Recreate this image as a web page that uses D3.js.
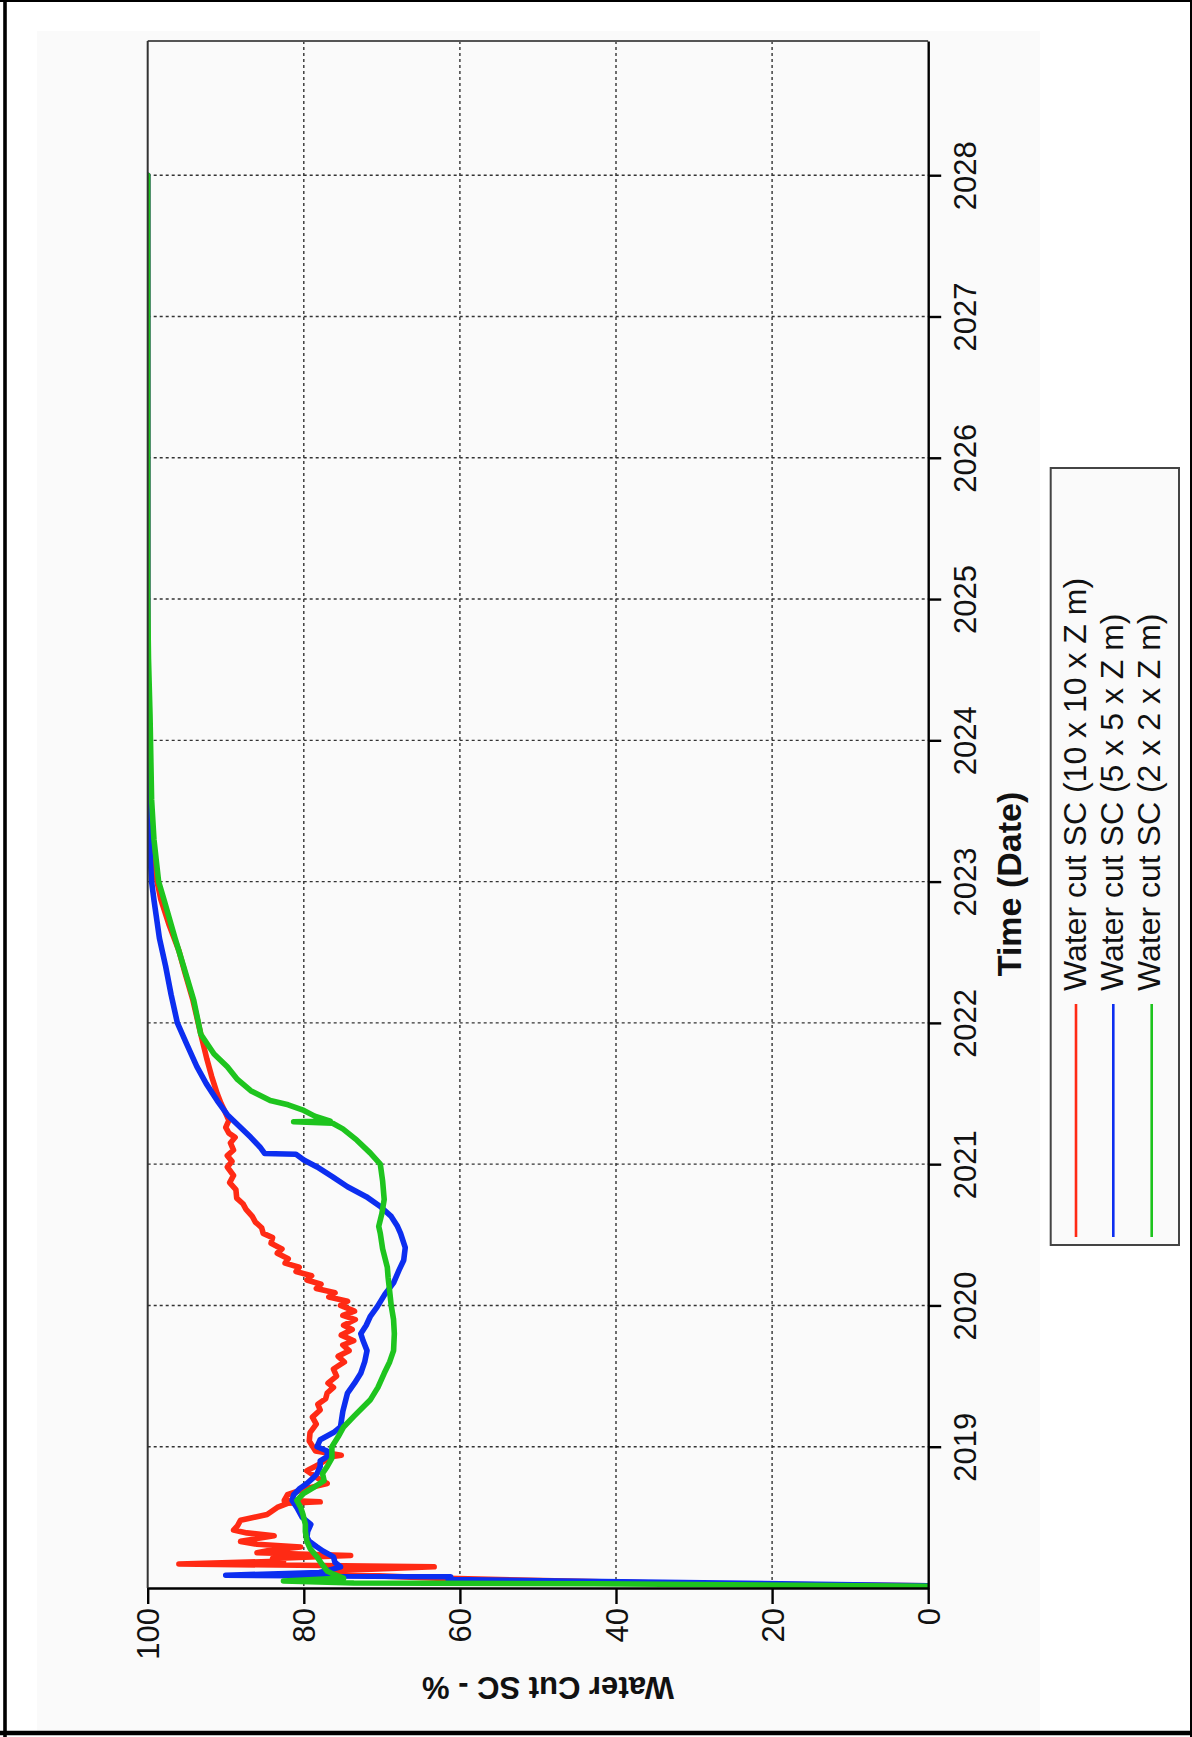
<!DOCTYPE html>
<html><head><meta charset="utf-8">
<script src="https://cdn.jsdelivr.net/npm/d3@7"></script>
<style>
html,body{margin:0;padding:0;background:#fff;}
svg{display:block;font-family:"Liberation Sans",Arial,Helvetica,sans-serif;}
</style>
</head><body>
<svg id="chart" width="1192" height="1737"></svg>
<script>
// ---- data ----
const yearTicks = [2019, 2020, 2021, 2022, 2023, 2024, 2025, 2026, 2027, 2028];
const valueTicks = [0, 20, 40, 60, 80, 100];
const timeDomain = [2018, 2028.95];
const valueDomain = [0, 100];
const seriesNames = ["Water cut SC (10 x 10 x Z m)", "Water cut SC (5 x 5 x Z m)", "Water cut SC (2 x 2 x Z m)"];
const seriesColors = ["#ff2a14", "#0c2ef0", "#1ec41e"];
const axisTitleX = "Time (Date)";
const axisTitleY = "Water Cut SC - %";

// [decimal year, water cut %]
const wc10 = [
 [2018.015,0],[2018.03,30],[2018.07,63],[2018.10,77],[2018.12,77],[2018.15,63.3],[2018.17,96],
 [2018.19,82.6],[2018.21,84],[2018.23,74],[2018.25,86],[2018.27,84],[2018.29,80.4],[2018.31,86],
 [2018.33,88.1],[2018.35,86],[2018.37,83.8],[2018.39,87.3],[2018.41,89],[2018.44,88.5],[2018.48,88.1],
 [2018.52,84.7],[2018.57,83.4],[2018.60,82],[2018.61,77.9],[2018.62,82.5],[2018.66,82.1],[2018.70,80],
 [2018.74,77],[2018.78,78.3],[2018.83,79.6],[2018.88,77.9],[2018.93,76.5],[2018.94,75.2],[2018.97,78.5],
 [2019.04,79.3],[2019.10,79.2],[2019.16,78.4],[2019.21,78.9],[2019.26,77.9],[2019.30,78.2],[2019.34,77.2],
 [2019.38,77.0],[2019.42,76.2],[2019.45,76.9],[2019.50,75.8],[2019.55,76.2],[2019.60,74.8],[2019.64,75.6],
 [2019.68,74.2],[2019.72,75.0],[2019.75,73.6],[2019.79,75.2],[2019.83,73.8],[2019.86,74.9],[2019.90,73.4],
 [2019.93,75.0],[2019.96,73.5],[2020.00,75.3],[2020.03,74.4],[2020.06,76.8],[2020.09,76.0],[2020.12,78.4],
 [2020.15,77.8],[2020.18,79.6],[2020.21,79.0],[2020.24,81.0],[2020.27,80.6],[2020.30,82.4],[2020.33,82.0],
 [2020.37,83.4],[2020.40,82.8],[2020.44,84.2],[2020.48,84.0],[2020.51,85.2],[2020.55,85.4],[2020.59,86.2],
 [2020.63,86.6],[2020.68,87.4],[2020.72,87.8],[2020.76,88.6],[2020.82,88.7],[2020.87,89.5],[2020.92,89.0],
 [2020.98,89.8],[2021.02,89.2],[2021.06,89.8],[2021.10,89.0],[2021.15,89.4],[2021.19,88.8],[2021.22,89.6],
 [2021.26,90.0],[2021.31,89.6],[2021.36,90.0],[2021.43,90.6],[2021.50,91.1],[2021.62,91.8],[2021.74,92.4],
 [2021.92,93.2],[2022.16,94.2],[2022.35,95.2],[2022.51,96.0],[2022.70,97.3],[2022.87,98.3],[2023.00,98.8],
 [2023.30,99.4],[2023.60,99.7],[2024.00,99.9],[2024.50,100],[2028.00,100]
];
const wc5 = [
 [2018.015,0],[2018.05,47],[2018.06,61.5],[2018.08,61.2],[2018.09,90],[2018.11,78],[2018.13,76.5],
 [2018.15,75.3],[2018.18,76],[2018.22,76.2],[2018.26,77.5],[2018.29,78.3],[2018.33,79.3],[2018.36,79.6],
 [2018.40,79.5],[2018.45,79.1],[2018.50,80.2],[2018.57,80.9],[2018.62,81.5],[2018.66,81.3],[2018.70,80.6],
 [2018.74,79.6],[2018.78,78.8],[2018.81,78.3],[2018.86,77.9],[2018.90,77.9],[2018.93,77.0],[2018.97,77.0],
 [2019.00,78.3],[2019.05,77.9],[2019.10,76.2],[2019.14,75.3],[2019.25,75.0],[2019.38,74.4],[2019.45,73.5],
 [2019.52,72.7],[2019.60,72.2],[2019.68,71.9],[2019.75,72.4],[2019.80,72.7],[2019.86,72.0],[2019.92,71.5],
 [2019.99,70.6],[2020.08,69.6],[2020.16,68.5],[2020.25,67.8],[2020.32,67.2],[2020.41,67.0],[2020.51,67.6],
 [2020.56,68.0],[2020.63,68.8],[2020.70,70.2],[2020.77,72.0],[2020.84,74.4],[2020.91,76.3],[2020.98,78.3],
 [2021.03,80.0],[2021.07,81.0],[2021.075,85.0],[2021.12,85.6],[2021.19,86.8],[2021.26,88.1],[2021.35,89.8],
 [2021.45,91.1],[2021.57,92.5],[2021.69,93.7],[2021.85,95.0],[2022.00,96.2],[2022.20,97.0],[2022.40,97.7],
 [2022.60,98.5],[2022.87,99.2],[2023.00,99.5],[2023.30,99.8],[2023.60,99.9],[2024.00,100],[2028.00,100]
];
const wc2 = [
 [2018.012,0],[2018.03,42.8],[2018.035,73.6],[2018.05,82.6],[2018.07,74.9],[2018.10,76.3],[2018.12,77.0],
 [2018.17,77.7],[2018.22,78.3],[2018.28,79.2],[2018.33,79.6],[2018.40,79.8],[2018.45,79.8],[2018.52,80.1],
 [2018.57,80.4],[2018.62,80.9],[2018.67,80.0],[2018.72,78.5],[2018.76,77.4],[2018.81,77.6],[2018.86,77.0],
 [2018.92,76.4],[2019.00,76.4],[2019.07,75.6],[2019.14,74.9],[2019.22,73.5],[2019.33,71.5],[2019.42,70.5],
 [2019.52,69.7],[2019.60,69.0],[2019.68,68.5],[2019.80,68.4],[2019.90,68.5],[2020.00,68.8],[2020.10,69.0],
 [2020.20,69.2],[2020.27,69.3],[2020.40,69.9],[2020.51,70.2],[2020.56,70.4],[2020.65,70.0],[2020.75,69.7],
 [2020.88,69.9],[2021.00,70.2],[2021.08,71.5],[2021.17,73.2],[2021.25,75.0],[2021.29,76.3],[2021.30,81.3],
 [2021.305,76.6],[2021.34,78.6],[2021.38,80.0],[2021.42,82.0],[2021.45,84.3],[2021.52,86.8],[2021.60,88.5],
 [2021.69,89.8],[2021.78,91.5],[2021.92,93.2],[2022.16,94.1],[2022.40,95.4],[2022.60,96.5],[2022.87,97.9],
 [2023.00,98.6],[2023.30,99.2],[2023.58,99.5],[2024.17,99.7],[2024.58,99.9],[2025.00,100],[2028.00,100]
];
const seriesData = [wc10, wc5, wc2];

// ---- layout ----
const plot = {left: 147.7, right: 928.2, top: 41, bottom: 1588};
const svg = d3.select("#chart");

const tScale = d3.scaleLinear().domain(timeDomain).range([plot.bottom, plot.top]);
const vScale = d3.scaleLinear().domain(valueDomain).range([plot.right, plot.left]);

// page background / panel
svg.append("rect").attr("x",0).attr("y",0).attr("width",1192).attr("height",1737).attr("fill","#fff");
svg.append("rect").attr("x",37).attr("y",31).attr("width",1003).attr("height",1700).attr("fill","#fafafa");

// gridlines
const grid = svg.append("g");
grid.selectAll("line.gy").data(yearTicks).join("line")
  .attr("x1", plot.left).attr("x2", plot.right)
  .attr("y1", d=>tScale(d)).attr("y2", d=>tScale(d))
  .attr("stroke","#333").attr("stroke-width",1.4).attr("stroke-dasharray","3,3");
grid.selectAll("line.gv").data(valueTicks.filter(v=>v>0 && v<100)).join("line")
  .attr("y1", plot.top).attr("y2", plot.bottom)
  .attr("x1", d=>vScale(d)).attr("x2", d=>vScale(d))
  .attr("stroke","#333").attr("stroke-width",1.4).attr("stroke-dasharray","3,3");

// clip
svg.append("clipPath").attr("id","clip").append("rect")
  .attr("x",plot.left).attr("y",plot.top).attr("width",plot.right-plot.left).attr("height",plot.bottom-plot.top);

const line = d3.line().x(d=>vScale(d[1])).y(d=>tScale(d[0]));
const lines = svg.append("g").attr("clip-path","url(#clip)");
seriesData.forEach((s,i)=>{
  lines.append("path").datum(s).attr("d", line)
    .attr("fill","none").attr("stroke", seriesColors[i])
    .attr("stroke-width", 5.6).attr("stroke-linejoin","round").attr("stroke-linecap","round");
});

// frame top/left
svg.append("line").attr("x1",plot.left).attr("x2",plot.right).attr("y1",plot.top).attr("y2",plot.top)
  .attr("stroke","#555").attr("stroke-width",2);
svg.append("line").attr("x1",plot.left).attr("x2",plot.left).attr("y1",plot.top).attr("y2",plot.bottom)
  .attr("stroke","#333").attr("stroke-width",2);

// right (time) axis
const tAxis = d3.axisRight(tScale).tickValues(yearTicks).tickSize(13).tickSizeOuter(0).tickFormat(d3.format("d"));
const gT = svg.append("g").attr("transform",`translate(${plot.right},0)`).call(tAxis);
gT.select(".domain").attr("stroke","#000").attr("stroke-width",2.4);
gT.selectAll(".tick line").attr("stroke","#000").attr("stroke-width",2.4);
gT.selectAll(".tick text").attr("x",null).attr("dy",null)
  .attr("transform","translate(48,0) rotate(-90)")
  .attr("text-anchor","middle").attr("font-size",31).attr("fill","#111")
  .attr("font-family",'"Liberation Sans",Arial,sans-serif');

// bottom (value) axis
const vAxis = d3.axisBottom(vScale).tickValues(valueTicks).tickSize(16).tickSizeOuter(0).tickFormat(d3.format("d"));
const gV = svg.append("g").attr("transform",`translate(0,${plot.bottom})`).call(vAxis);
gV.select(".domain").attr("stroke","#000").attr("stroke-width",2.4);
gV.selectAll(".tick line").attr("stroke","#000").attr("stroke-width",2.4);
gV.selectAll(".tick text").attr("y",null).attr("dy",null)
  .attr("transform","translate(11,20) rotate(-90)")
  .attr("text-anchor","end").attr("font-size",31).attr("fill","#111")
  .attr("font-family",'"Liberation Sans",Arial,sans-serif');

// axis titles
svg.append("text").text(axisTitleY)
  .attr("transform","translate(548,1677) rotate(180)")
  .attr("text-anchor","middle").attr("font-size",31).attr("font-weight","bold").attr("fill","#111");
svg.append("text").text(axisTitleX)
  .attr("transform","translate(1021,884) rotate(-90)")
  .attr("text-anchor","middle").attr("font-size",34).attr("font-weight","bold").attr("fill","#111");

// legend
const leg = svg.append("g");
leg.append("rect").attr("x",1050.7).attr("y",468).attr("width",128.3).attr("height",777)
  .attr("fill","#fafafa").attr("stroke","#444").attr("stroke-width",2);
const legLineX = [1076, 1113.3, 1151.7];
const legTextX = [1086, 1123, 1160];
seriesNames.forEach((n,i)=>{
  leg.append("line").attr("x1",legLineX[i]).attr("x2",legLineX[i]).attr("y1",1004).attr("y2",1237)
    .attr("stroke",seriesColors[i]).attr("stroke-width",2.6);
  leg.append("text").text(n).attr("transform",`translate(${legTextX[i]},991) rotate(-90)`)
    .attr("text-anchor","start").attr("font-size",32).attr("fill","#111");
});

// outer border
svg.append("line").attr("x1",5).attr("x2",5).attr("y1",0).attr("y2",1737).attr("stroke","#000").attr("stroke-width",3.6);
svg.append("line").attr("x1",0).attr("x2",1192).attr("y1",1733).attr("y2",1733).attr("stroke","#000").attr("stroke-width",4.5);
svg.append("line").attr("x1",0).attr("x2",1192).attr("y1",1).attr("y2",1).attr("stroke","#000").attr("stroke-width",2);
svg.append("line").attr("x1",1191).attr("x2",1191).attr("y1",0).attr("y2",1737).attr("stroke","#000").attr("stroke-width",2);
</script>
</body></html>
